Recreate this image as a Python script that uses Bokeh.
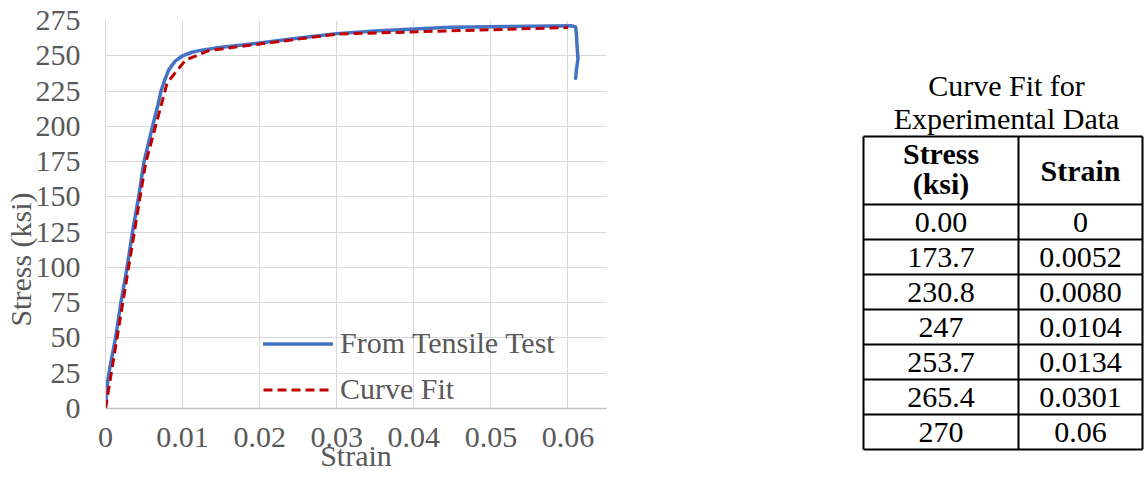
from bokeh.plotting import figure
from bokeh.models import Range1d, FixedTicker, Legend, LegendItem
from bokeh.layouts import row
from bokeh.core.properties import value
from bokeh.embed import file_html
from bokeh.resources import INLINE

# ---------------- data ----------------
test_strain = [0, 0.0001, 0.0003, 0.0006, 0.0013, 0.0020, 0.0028, 0.0035, 0.0043, 0.0050,
               0.0061, 0.0068, 0.0072, 0.0077, 0.0082, 0.0090, 0.0100, 0.0112, 0.0125, 0.0150,
               0.0200, 0.0254, 0.0300, 0.0350, 0.0400, 0.0448, 0.0500, 0.0550, 0.0605, 0.0610,
               0.0611, 0.0612, 0.0613, 0.0611, 0.0610]
test_stress = [0, 10, 20, 30, 50, 75, 100, 125, 150, 175,
               200, 215, 225, 233, 240, 246, 250, 252.5, 254, 256,
               259, 262.8, 265.7, 267.5, 268.9, 270.2, 270.6, 270.9, 271.2, 270.5,
               265, 255, 248, 240, 234]

fit_stress = [0.00, 173.7, 230.8, 247, 253.7, 265.4, 270]
fit_strain = [0, 0.0052, 0.0080, 0.0104, 0.0134, 0.0301, 0.06]
fit_stress_labels = ["0.00", "173.7", "230.8", "247", "253.7", "265.4", "270"]
fit_strain_labels = ["0", "0.0052", "0.0080", "0.0104", "0.0134", "0.0301", "0.06"]

x_ticks = [0, 0.01, 0.02, 0.03, 0.04, 0.05, 0.06]
x_tick_labels = ["0", "0.01", "0.02", "0.03", "0.04", "0.05", "0.06"]
y_ticks = [0, 25, 50, 75, 100, 125, 150, 175, 200, 225, 250, 275]

x_title = "Strain"
y_title = "Stress (ksi)"
series_names = ["From Tensile Test", "Curve Fit"]
table_title = ["Curve Fit for", "Experimental Data"]
table_header = ["Stress", "(ksi)", "Strain"]

FONT = "Liberation Serif"
GRAY = "#595959"
FS = "30px"
H = 476
W1, W2 = 640, 504

# ---------------- chart ----------------
p = figure(width=W1, height=H, x_range=Range1d(0, 0.065), y_range=Range1d(0, 275),
           output_backend="svg", toolbar_location=None,
           min_border_left=105, min_border_right=34, min_border_top=20, min_border_bottom=68)
p.outline_line_color = None

p.xaxis.ticker = FixedTicker(ticks=x_ticks)
p.xaxis.major_label_overrides = {t: l for t, l in zip(x_ticks, x_tick_labels)}
p.yaxis.ticker = FixedTicker(ticks=y_ticks)
p.xgrid.ticker = FixedTicker(ticks=x_ticks)
p.ygrid.ticker = FixedTicker(ticks=y_ticks)
p.grid.grid_line_color = "#D9D9D9"
p.grid.grid_line_width = 1

for ax in (p.xaxis, p.yaxis):
    ax.major_tick_line_color = None
    ax.minor_tick_line_color = None
    ax.major_tick_out = 0
    ax.major_tick_in = 0
    ax.minor_tick_out = 0
    ax.minor_tick_in = 0
    ax.major_label_text_font = FONT
    ax.major_label_text_font_size = FS
    ax.major_label_text_color = GRAY
    ax.axis_label_text_font = FONT
    ax.axis_label_text_font_size = FS
    ax.axis_label_text_color = GRAY
    ax.axis_label_text_font_style = "normal"
p.xaxis.axis_line_color = "#BFBFBF"
p.xaxis.axis_line_width = 1.5
p.yaxis.axis_line_color = "#D9D9D9"
p.yaxis.axis_line_width = 1
p.xaxis.major_label_standoff = 19
p.yaxis.major_label_standoff = 25

# axis titles; the y title sits below the frame centre, as in the original
p.xaxis.axis_label = x_title
p.xaxis.axis_label_standoff = -11
p.yaxis.axis_label = y_title + "\u00a0" * 12
p.yaxis.axis_label_standoff = -4

r_test = p.line(test_strain, test_stress, line_color="#4472C4", line_width=3.5,
                line_join="round", line_cap="round")
r_fit = p.line(fit_strain, fit_stress, line_color="#C00000", line_width=3,
               line_dash="9 5", line_join="round")

legend = Legend(items=[LegendItem(label=series_names[0], renderers=[r_test]),
                       LegendItem(label=series_names[1], renderers=[r_fit])],
                location=(158, 2), padding=0, margin=0, spacing=12,
                glyph_width=70, glyph_height=33, label_height=33, label_standoff=7,
                label_text_font=FONT, label_text_font_size=FS, label_text_color=GRAY,
                background_fill_alpha=0, border_line_alpha=0)
p.add_layout(legend, "center")

# ---------------- table (data units = page pixels) ----------------
t = figure(width=W2, height=H, x_range=Range1d(W1, W1 + W2), y_range=Range1d(H, 0),
           output_backend="svg", toolbar_location=None,
           x_axis_location=None, y_axis_location=None,
           min_border_left=0, min_border_right=0, min_border_top=0, min_border_bottom=0)
t.grid.visible = False
t.outline_line_color = None

left, mid, right = 863, 1018, 1142
top, head_bottom, row_h = 136, 204, 35
n = len(fit_stress_labels)
bottom = head_bottom + n * row_h
c1 = (left + mid) / 2
c2 = (mid + right) / 2

hy = [top, head_bottom] + [head_bottom + (i + 1) * row_h for i in range(n)]
t.segment(x0=[left] * len(hy), y0=hy, x1=[right] * len(hy), y1=hy,
          line_color="black", line_width=2)
t.segment(x0=[left, mid, right], y0=[top] * 3, x1=[left, mid, right], y1=[bottom] * 3,
          line_color="black", line_width=2)

tc = 1006
t.text(x=[tc, tc], y=[85, 118], text=table_title, text_align="center",
       text_baseline="middle", text_font=value(FONT), text_font_size=value(FS),
       text_color="black")
t.text(x=[c1, c1, c2], y=[153, 183, 170], text=table_header, text_align="center",
       text_baseline="middle", text_font=value(FONT), text_font_size=value(FS),
       text_font_style="bold", text_color="black")
ry = [head_bottom + i * row_h + row_h / 2 for i in range(n)]
t.text(x=[c1] * n, y=ry, text=fit_stress_labels, text_align="center",
       text_baseline="middle", text_font=value(FONT), text_font_size=value(FS),
       text_color="black")
t.text(x=[c2] * n, y=ry, text=fit_strain_labels, text_align="center",
       text_baseline="middle", text_font=value(FONT), text_font_size=value(FS),
       text_color="black")

for fig in (p, t):
    try:
        fig.frame_align = False
    except Exception:
        pass

layout = row(p, t, spacing=0)
open("out.html", "w").write(file_html(layout, INLINE))
